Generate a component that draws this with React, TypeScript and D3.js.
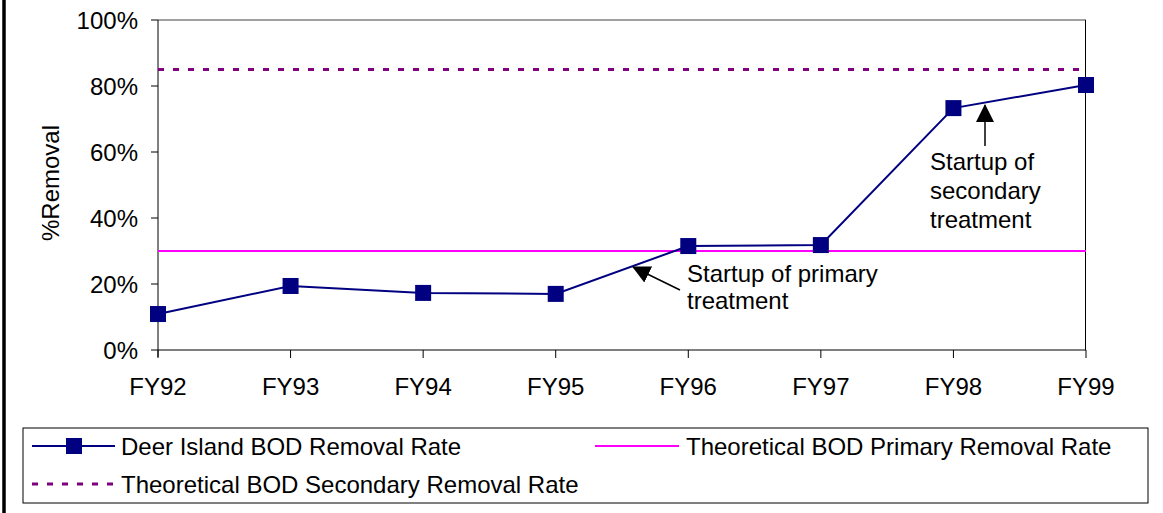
import React from "react";
import * as d3 from "d3";

const categories = ["FY92", "FY93", "FY94", "FY95", "FY96", "FY97", "FY98", "FY99"];
const deerIsland = [0.109, 0.194, 0.173, 0.170, 0.315, 0.318, 0.733, 0.803];
const primaryRate = 0.30;
const secondaryRate = 0.85;
const yTicks = [0, 0.2, 0.4, 0.6, 0.8, 1.0];

const W = 1163;
const H = 513;
const FONT = "'Liberation Sans', Arial, sans-serif";
const FS = 24;

export default function App() {
  const x = d3.scalePoint<string>().domain(categories).range([158, 1086]);
  const y = d3.scaleLinear().domain([0, 1]).range([350, 20]);
  const line = d3
    .line<number>()
    .x((_, i) => x(categories[i]) as number)
    .y((d) => y(d));
  const fmt = d3.format(".0%");
  const x0 = 158;
  const x1 = 1086;

  return (
    <svg
      width={W}
      height={H}
      style={{ position: "absolute", left: 0, top: 0, fontFamily: FONT }}
    >
      <defs>
        <marker id="arrow" viewBox="0 0 18 18" refX="17" refY="9" markerWidth="18" markerHeight="18" markerUnits="userSpaceOnUse" orient="auto">
          <path d="M0,0 L18,9 L0,18 Z" fill="black" />
        </marker>
      </defs>
      <rect x={0} y={0} width={W} height={H} fill="white" />
      {/* left border */}
      <line x1={4} x2={4} y1={0} y2={H} stroke="black" strokeWidth={3.5} />

      {/* plot frame */}
      <line x1={x0} x2={x1} y1={20} y2={20} stroke="#808080" strokeWidth={1.5} />
      <line x1={x1 - 0.5} x2={x1 - 0.5} y1={20} y2={350} stroke="black" strokeWidth={1} />
      <line x1={x0} x2={x0} y1={20} y2={357} stroke="black" strokeWidth={1} />
      <line x1={x0} x2={x1} y1={350} y2={350} stroke="black" strokeWidth={1} />

      {/* y ticks */}
      {yTicks.map((t) => (
        <g key={t}>
          <line x1={151} x2={x0} y1={y(t)} y2={y(t)} stroke="black" />
          <text x={138} y={y(t)} dy="0.36em" textAnchor="end" fontSize={FS}>
            {fmt(t)}
          </text>
        </g>
      ))}
      {/* x ticks */}
      {categories.map((c) => (
        <g key={c}>
          <line x1={x(c)} x2={x(c)} y1={350} y2={358} stroke="black" />
          <text x={x(c)} y={395} textAnchor="middle" fontSize={FS}>
            {c}
          </text>
        </g>
      ))}

      <text
        transform={`translate(50,183) rotate(-90)`}
        textAnchor="middle"
        dy="0.36em"
        fontSize={FS}
      >
        %Removal
      </text>

      {/* reference lines */}
      <line x1={x0} x2={x1} y1={y(secondaryRate)} y2={y(secondaryRate)} stroke="#800080" strokeWidth={3} strokeDasharray="6 9" />
      <line x1={x0} x2={x1} y1={y(primaryRate)} y2={y(primaryRate)} stroke="#FF00FF" strokeWidth={2} />

      {/* series */}
      <path d={line(deerIsland) as string} fill="none" stroke="#000080" strokeWidth={2} />
      {deerIsland.map((v, i) => (
        <rect key={i} x={(x(categories[i]) as number) - 8} y={y(v) - 8} width={16} height={16} fill="#000080" />
      ))}

      {/* annotations */}
      <line x1={680} y1={290} x2={633} y2={267} stroke="black" strokeWidth={1.5} markerEnd="url(#arrow)" />
      <text x={687} y={282} fontSize={FS}>Startup of primary</text>
      <text x={687} y={309} fontSize={FS}>treatment</text>

      <line x1={985} y1={146} x2={985} y2={105} stroke="black" strokeWidth={1.5} markerEnd="url(#arrow)" />
      <text x={930} y={170} fontSize={FS}>Startup of</text>
      <text x={930} y={199} fontSize={FS}>secondary</text>
      <text x={930} y={228} fontSize={FS}>treatment</text>

      {/* legend */}
      <rect x={23} y={428} width={1125} height={75} fill="white" stroke="black" strokeWidth={1} />
      <line x1={32} x2={115} y1={446} y2={446} stroke="#000080" strokeWidth={2} />
      <rect x={66} y={438} width={16} height={16} fill="#000080" />
      <text x={121} y={446} dy="0.36em" fontSize={FS}>Deer Island BOD Removal Rate</text>

      <line x1={595} x2={679} y1={446} y2={446} stroke="#FF00FF" strokeWidth={2} />
      <text x={686} y={446} dy="0.36em" fontSize={FS}>Theoretical BOD Primary Removal Rate</text>

      <line x1={32} x2={115} y1={484} y2={484} stroke="#800080" strokeWidth={3} strokeDasharray="6 9" />
      <text x={121} y={484} dy="0.36em" fontSize={FS}>Theoretical BOD Secondary Removal Rate</text>
    </svg>
  );
}
